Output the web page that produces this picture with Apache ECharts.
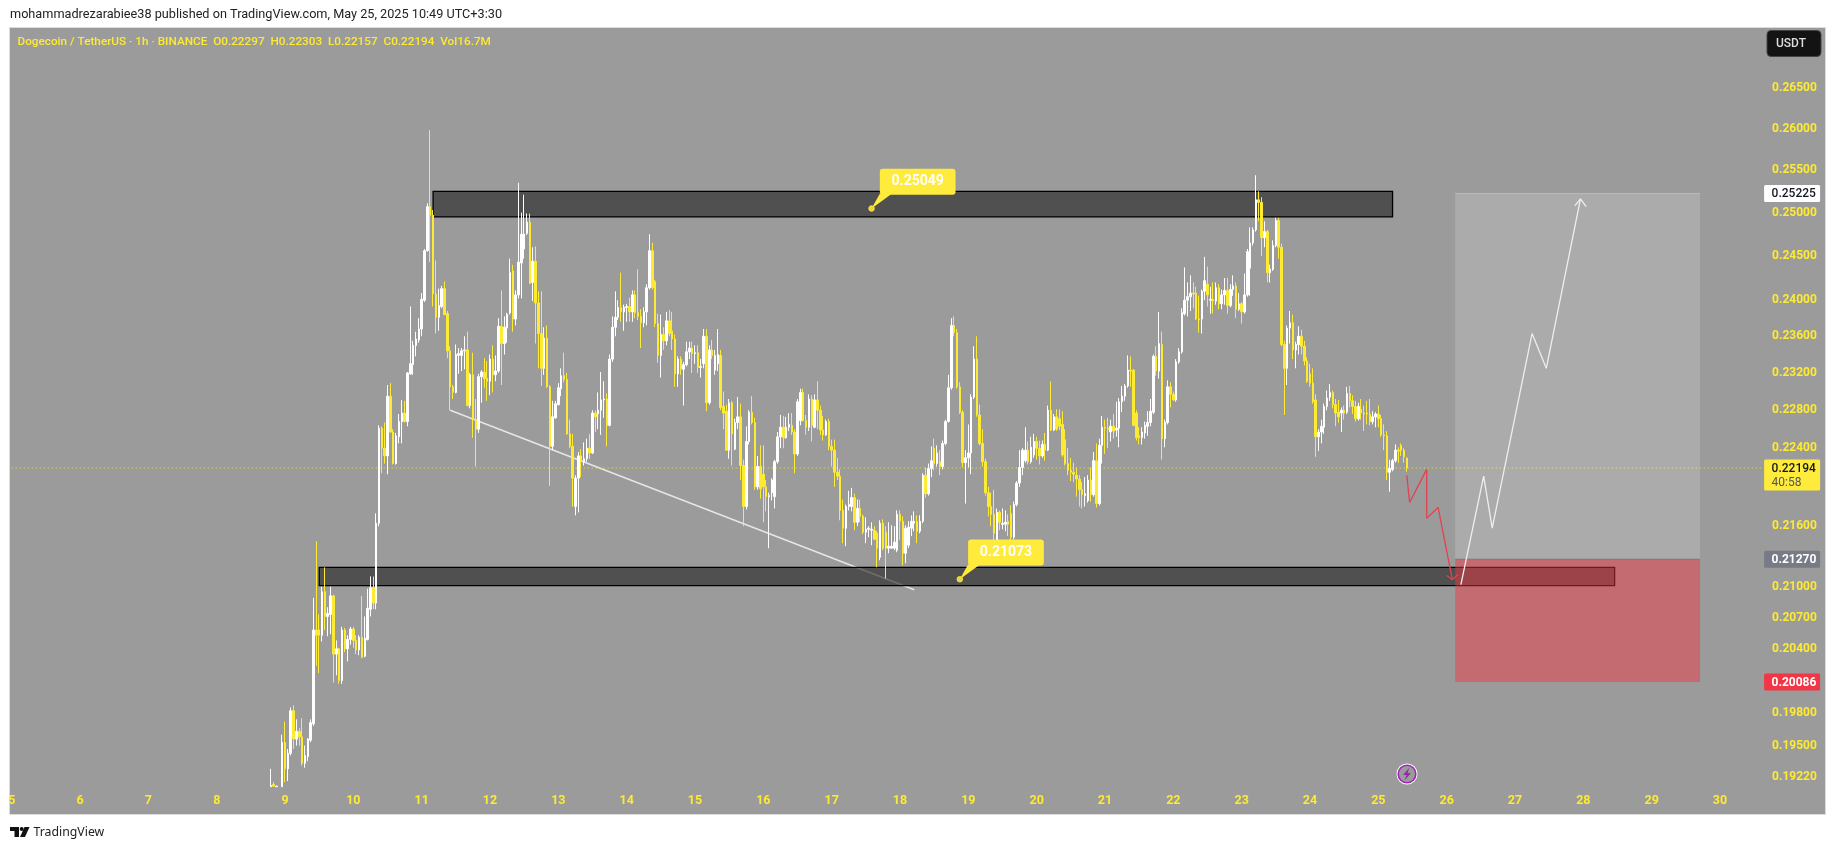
<!DOCTYPE html>
<html><head><meta charset="utf-8">
<style>html,body{margin:0;padding:0;background:#fff}#c{width:1835px;height:850px}</style>
<script src="https://cdn.jsdelivr.net/npm/echarts@6/dist/echarts.min.js"></script>
</head><body><div id="c"></div>
<script>
// ---- data ----
const dayLabels = [5,6,7,8,9,10,11,12,13,14,15,16,17,18,19,20,21,22,23,24,25,26,27,28,29,30];
const hourSlots = 616;
const firstCandle = 91;
const priceTicks = [0.265,0.26,0.255,0.25,0.245,0.24,0.236,0.232,0.228,0.224,0.216,0.21,0.207,0.204,0.198,0.195,0.1922];
const opens = [
0.1913,0.1915,0.1913,0.1908,0.1913,0.1953,0.1929,0.1943,0.1982,0.1956,
0.1963,0.1958,0.1934,0.1940,0.1955,0.1970,0.2058,0.2058,0.2053,0.2095,
0.2071,0.2073,0.2091,0.2035,0.2040,0.2010,0.2058,0.2040,0.2049,0.2059,
0.2048,0.2039,0.2051,0.2033,0.2049,0.2078,0.2099,0.2084,0.2163,0.2261,
0.2240,0.2232,0.2295,0.2257,0.2224,0.2252,0.2268,0.2277,0.2268,0.2319,
0.2329,0.2350,0.2356,0.2368,0.2400,0.2456,0.2507,0.2497,0.2407,0.2381,
0.2393,0.2413,0.2385,0.2344,0.2305,0.2299,0.2339,0.2339,0.2344,0.2345,
0.2285,0.2318,0.2270,0.2260,0.2316,0.2321,0.2314,0.2311,0.2335,0.2318,
0.2322,0.2371,0.2352,0.2369,0.2386,0.2433,0.2379,0.2406,0.2442,0.2458,
0.2476,0.2489,0.2420,0.2444,0.2397,0.2363,0.2325,0.2358,0.2305,0.2242,
0.2272,0.2286,0.2303,0.2317,0.2313,0.2255,0.2242,0.2180,0.2209,0.2232,
0.2226,0.2229,0.2240,0.2235,0.2277,0.2276,0.2280,0.2291,0.2292,0.2264,
0.2335,0.2370,0.2381,0.2392,0.2387,0.2392,0.2393,0.2387,0.2406,0.2386,
0.2382,0.2375,0.2387,0.2414,0.2456,0.2421,0.2374,0.2339,0.2362,0.2355,
0.2377,0.2366,0.2357,0.2319,0.2335,0.2324,0.2329,0.2343,0.2347,0.2341,
0.2342,0.2326,0.2330,0.2360,0.2288,0.2345,0.2323,0.2330,0.2339,0.2284,
0.2279,0.2238,0.2288,0.2239,0.2267,0.2273,0.2222,0.2180,0.2247,0.2278,
0.2267,0.2200,0.2221,0.2213,0.2200,0.2190,0.2194,0.2190,0.2226,0.2252,
0.2262,0.2251,0.2262,0.2264,0.2257,0.2234,0.2269,0.2299,0.2269,0.2262,
0.2292,0.2262,0.2291,0.2280,0.2259,0.2254,0.2268,0.2242,0.2238,0.2215,
0.2211,0.2176,0.2158,0.2180,0.2180,0.2189,0.2164,0.2178,0.2170,0.2154,
0.2157,0.2156,0.2156,0.2153,0.2129,0.2163,0.2154,0.2138,0.2138,0.2138,
0.2136,0.2172,0.2165,0.2133,0.2141,0.2158,0.2163,0.2165,0.2155,0.2165,
0.2212,0.2193,0.2219,0.2240,0.2224,0.2226,0.2221,0.2245,0.2268,0.2304,
0.2372,0.2364,0.2305,0.2278,0.2225,0.2230,0.2235,0.2294,0.2335,0.2275,
0.2245,0.2226,0.2194,0.2180,0.2172,0.2140,0.2174,0.2162,0.2162,0.2165,
0.2173,0.2149,0.2182,0.2204,0.2220,0.2227,0.2238,0.2226,0.2233,0.2247,
0.2240,0.2232,0.2244,0.2238,0.2280,0.2259,0.2273,0.2271,0.2265,0.2249,
0.2224,0.2217,0.2215,0.2212,0.2208,0.2197,0.2191,0.2186,0.2207,0.2192,
0.2227,0.2183,0.2243,0.2262,0.2261,0.2257,0.2263,0.2259,0.2261,0.2289,
0.2295,0.2306,0.2323,0.2323,0.2277,0.2253,0.2251,0.2256,0.2263,0.2267,
0.2278,0.2338,0.2322,0.2351,0.2250,0.2267,0.2305,0.2297,0.2291,0.2332,
0.2343,0.2385,0.2400,0.2404,0.2408,0.2408,0.2379,0.2379,0.2410,0.2418,
0.2400,0.2401,0.2399,0.2414,0.2396,0.2406,0.2411,0.2394,0.2412,0.2416,
0.2390,0.2396,0.2387,0.2406,0.2436,0.2465,0.2480,0.2515,0.2512,0.2471,
0.2478,0.2431,0.2435,0.2462,0.2491,0.2460,0.2351,0.2325,0.2369,0.2375,
0.2345,0.2351,0.2360,0.2349,0.2333,0.2319,0.2309,0.2291,0.2252,0.2257,
0.2262,0.2284,0.2294,0.2299,0.2286,0.2278,0.2277,0.2280,0.2278,0.2298,
0.2290,0.2284,0.2271,0.2281,0.2277,0.2277,0.2276,0.2268,0.2273,0.2276,
0.2271,0.2254,0.2253,0.2215,0.2218,0.2227,0.2238,0.2243,0.2238,0.22297];
const closes = [
0.1914,0.19135,0.19135,0.1910,0.1953,0.1929,0.1943,0.1982,0.1956,0.1963,
0.1958,0.1934,0.1941,0.1956,0.1971,0.2058,0.2053,0.2053,0.2095,0.2071,
0.2074,0.2091,0.2035,0.2040,0.2010,0.2058,0.2040,0.2049,0.2059,0.2048,
0.2039,0.2051,0.2032,0.2050,0.2079,0.2099,0.2084,0.2163,0.2261,0.2240,
0.2232,0.2295,0.2257,0.2224,0.2253,0.2268,0.2277,0.2268,0.2320,0.2330,
0.2350,0.2357,0.2368,0.2401,0.2456,0.2507,0.2497,0.2407,0.2381,0.2394,
0.2413,0.2384,0.2344,0.2305,0.2299,0.2340,0.2341,0.2344,0.2345,0.2285,
0.2318,0.2270,0.2260,0.2316,0.2321,0.2314,0.2311,0.2335,0.2318,0.2322,
0.2371,0.2352,0.2370,0.2384,0.2431,0.2379,0.2406,0.2443,0.2475,0.2475,
0.2489,0.2419,0.2444,0.2397,0.2363,0.2325,0.2358,0.2305,0.2242,0.2273,
0.2287,0.2304,0.2317,0.2313,0.2255,0.2242,0.2209,0.2209,0.2232,0.2226,
0.2229,0.2240,0.2235,0.2277,0.2273,0.2280,0.2291,0.2292,0.2264,0.2335,
0.2370,0.2381,0.2392,0.2387,0.2392,0.2393,0.2387,0.2406,0.2386,0.2382,
0.2375,0.2387,0.2414,0.2456,0.2414,0.2374,0.2339,0.2362,0.2355,0.2377,
0.2363,0.2357,0.2319,0.2335,0.2324,0.2329,0.2343,0.2347,0.2341,0.2342,
0.2326,0.2327,0.2360,0.2288,0.2345,0.2339,0.2339,0.2340,0.2283,0.2277,
0.2238,0.2288,0.2255,0.2267,0.2273,0.2222,0.2180,0.2247,0.2278,0.2267,
0.2200,0.2221,0.2198,0.2200,0.2190,0.2191,0.2207,0.2226,0.2252,0.2262,
0.2251,0.2262,0.2265,0.2257,0.2234,0.2289,0.2299,0.2269,0.2262,0.2292,
0.2264,0.2291,0.2280,0.2259,0.2254,0.2268,0.2242,0.2238,0.2215,0.2211,
0.2176,0.2158,0.2180,0.2182,0.2189,0.2164,0.2178,0.2170,0.2154,0.2157,
0.2158,0.2157,0.2147,0.2138,0.2163,0.2138,0.2138,0.2140,0.2140,0.2144,
0.2172,0.2165,0.2133,0.2158,0.2159,0.2165,0.2165,0.2155,0.2165,0.2212,
0.2193,0.2219,0.2227,0.2224,0.2235,0.2221,0.2245,0.2268,0.2304,0.2372,
0.2364,0.2305,0.2278,0.2225,0.2230,0.2235,0.2294,0.2335,0.2275,0.2245,
0.2226,0.2194,0.2180,0.2172,0.2153,0.2174,0.2164,0.2163,0.2164,0.2162,
0.2149,0.2182,0.2204,0.2220,0.2238,0.2238,0.2226,0.2241,0.2247,0.2240,
0.2232,0.2244,0.2238,0.2280,0.2259,0.2273,0.2260,0.2263,0.2233,0.2224,
0.2217,0.2215,0.2213,0.2208,0.2197,0.2192,0.2193,0.2207,0.2192,0.2227,
0.2183,0.2243,0.2262,0.2261,0.2260,0.2263,0.2258,0.2261,0.2289,0.2295,
0.2306,0.2323,0.2322,0.2264,0.2251,0.2251,0.2257,0.2264,0.2267,0.2279,
0.2338,0.2322,0.2352,0.2250,0.2267,0.2305,0.2297,0.2291,0.2332,0.2343,
0.2386,0.2400,0.2404,0.2408,0.2407,0.2379,0.2378,0.2410,0.2422,0.2406,
0.2401,0.2399,0.2414,0.2396,0.2406,0.2411,0.2394,0.2412,0.2416,0.2390,
0.2396,0.2387,0.2406,0.2455,0.2465,0.2480,0.2515,0.2512,0.2471,0.2478,
0.2431,0.2435,0.2462,0.2491,0.2460,0.2351,0.2325,0.2369,0.2375,0.2345,
0.2351,0.2360,0.2349,0.2333,0.2311,0.2309,0.2289,0.2252,0.2257,0.2263,
0.2284,0.2293,0.2299,0.2286,0.2277,0.2273,0.2280,0.2277,0.2298,0.2290,
0.2284,0.2271,0.2284,0.2277,0.2276,0.2276,0.2268,0.2273,0.2276,0.2271,
0.2254,0.2253,0.2215,0.2219,0.2227,0.2238,0.2237,0.2238,0.2231,0.22194];
const lows = [
0.1913,0.1913,0.1913,0.1900,0.1913,0.1917,0.1918,0.1941,0.1947,0.1950,
0.1950,0.1932,0.1930,0.1936,0.1953,0.1968,0.2024,0.2017,0.2047,0.2058,
0.2052,0.2054,0.2008,0.2015,0.2007,0.2007,0.2037,0.2028,0.2044,0.2041,
0.2035,0.2034,0.2031,0.2032,0.2048,0.2071,0.2078,0.2078,0.2160,0.2214,
0.2224,0.2213,0.2256,0.2223,0.2223,0.2245,0.2245,0.2267,0.2263,0.2318,
0.2318,0.2338,0.2353,0.2360,0.2398,0.2455,0.2443,0.2393,0.2363,0.2366,
0.2391,0.2383,0.2336,0.2280,0.2292,0.2298,0.2319,0.2322,0.2324,0.2284,
0.2282,0.2251,0.2221,0.2256,0.2288,0.2304,0.2290,0.2296,0.2299,0.2311,
0.2320,0.2307,0.2340,0.2353,0.2384,0.2365,0.2372,0.2402,0.2402,0.2447,
0.2474,0.2418,0.2399,0.2352,0.2325,0.2306,0.2318,0.2304,0.2201,0.2238,
0.2271,0.2285,0.2295,0.2310,0.2254,0.2240,0.2180,0.2171,0.2174,0.2210,
0.2222,0.2226,0.2229,0.2234,0.2257,0.2260,0.2254,0.2272,0.2242,0.2263,
0.2332,0.2360,0.2378,0.2376,0.2366,0.2376,0.2376,0.2376,0.2380,0.2378,
0.2347,0.2370,0.2372,0.2412,0.2412,0.2370,0.2331,0.2315,0.2345,0.2350,
0.2360,0.2345,0.2305,0.2305,0.2318,0.2285,0.2327,0.2335,0.2320,0.2330,
0.2320,0.2315,0.2325,0.2279,0.2286,0.2335,0.2318,0.2322,0.2280,0.2260,
0.2237,0.2229,0.2222,0.2238,0.2260,0.2207,0.2160,0.2177,0.2244,0.2265,
0.2197,0.2197,0.2188,0.2164,0.2175,0.2138,0.2186,0.2178,0.2224,0.2240,
0.2240,0.2250,0.2258,0.2254,0.2214,0.2232,0.2264,0.2268,0.2254,0.2258,
0.2247,0.2261,0.2260,0.2254,0.2248,0.2253,0.2238,0.2221,0.2200,0.2207,
0.2166,0.2143,0.2140,0.2176,0.2175,0.2156,0.2160,0.2164,0.2152,0.2143,
0.2149,0.2141,0.2146,0.2119,0.2126,0.2136,0.2108,0.2133,0.2138,0.2136,
0.2134,0.2146,0.2121,0.2123,0.2138,0.2150,0.2155,0.2143,0.2153,0.2163,
0.2189,0.2191,0.2210,0.2217,0.2221,0.2212,0.2218,0.2243,0.2267,0.2302,
0.2360,0.2303,0.2276,0.2220,0.2183,0.2220,0.2213,0.2292,0.2273,0.2243,
0.2221,0.2191,0.2170,0.2160,0.2141,0.2138,0.2156,0.2157,0.2155,0.2150,
0.2146,0.2147,0.2180,0.2200,0.2212,0.2225,0.2223,0.2224,0.2230,0.2228,
0.2223,0.2230,0.2227,0.2237,0.2258,0.2258,0.2258,0.2259,0.2231,0.2222,
0.2212,0.2206,0.2205,0.2190,0.2180,0.2178,0.2180,0.2184,0.2185,0.2190,
0.2179,0.2181,0.2224,0.2234,0.2240,0.2247,0.2250,0.2252,0.2241,0.2278,
0.2290,0.2304,0.2305,0.2263,0.2248,0.2244,0.2244,0.2250,0.2253,0.2263,
0.2276,0.2317,0.2314,0.2228,0.2241,0.2265,0.2283,0.2290,0.2289,0.2330,
0.2341,0.2383,0.2382,0.2388,0.2391,0.2378,0.2364,0.2363,0.2400,0.2393,
0.2385,0.2385,0.2395,0.2390,0.2390,0.2395,0.2385,0.2392,0.2405,0.2380,
0.2388,0.2374,0.2385,0.2404,0.2405,0.2462,0.2478,0.2490,0.2450,0.2460,
0.2420,0.2420,0.2433,0.2460,0.2447,0.2349,0.2275,0.2307,0.2352,0.2335,
0.2325,0.2340,0.2340,0.2328,0.2309,0.2305,0.2287,0.2231,0.2237,0.2245,
0.2255,0.2280,0.2290,0.2282,0.2263,0.2267,0.2257,0.2270,0.2276,0.2283,
0.2276,0.2268,0.2269,0.2270,0.2258,0.2265,0.2264,0.2265,0.2262,0.2262,
0.2252,0.2238,0.2207,0.2195,0.2216,0.2225,0.2225,0.2232,0.2225,0.22157];
const highs = [
0.1929,0.1917,0.1914,0.1912,0.1960,0.1972,0.1947,0.1985,0.1987,0.1974,
0.1966,0.1975,0.1950,0.1957,0.1974,0.2089,0.2145,0.2073,0.2100,0.2119,
0.2080,0.2100,0.2092,0.2048,0.2041,0.2061,0.2060,0.2053,0.2061,0.2061,
0.2053,0.2053,0.2091,0.2071,0.2098,0.2110,0.2110,0.2173,0.2264,0.2263,
0.2267,0.2307,0.2309,0.2260,0.2256,0.2276,0.2291,0.2290,0.2321,0.2393,
0.2355,0.2365,0.2380,0.2408,0.2458,0.2511,0.2598,0.2503,0.2445,0.2413,
0.2416,0.2421,0.2388,0.2349,0.2307,0.2351,0.2347,0.2347,0.2360,0.2365,
0.2320,0.2342,0.2292,0.2319,0.2323,0.2336,0.2333,0.2340,0.2350,0.2339,
0.2380,0.2411,0.2382,0.2386,0.2447,0.2440,0.2411,0.2535,0.2500,0.2521,
0.2499,0.2499,0.2460,0.2461,0.2410,0.2410,0.2370,0.2372,0.2307,0.2290,
0.2290,0.2309,0.2325,0.2342,0.2320,0.2270,0.2255,0.2212,0.2236,0.2239,
0.2246,0.2250,0.2255,0.2280,0.2280,0.2299,0.2321,0.2311,0.2298,0.2340,
0.2382,0.2410,0.2400,0.2431,0.2395,0.2396,0.2403,0.2411,0.2411,0.2435,
0.2390,0.2392,0.2418,0.2475,0.2465,0.2423,0.2385,0.2384,0.2370,0.2387,
0.2389,0.2387,0.2362,0.2338,0.2338,0.2332,0.2354,0.2354,0.2354,0.2350,
0.2350,0.2335,0.2368,0.2368,0.2350,0.2356,0.2345,0.2368,0.2345,0.2300,
0.2286,0.2292,0.2290,0.2271,0.2294,0.2287,0.2228,0.2263,0.2280,0.2295,
0.2272,0.2232,0.2243,0.2243,0.2207,0.2194,0.2209,0.2228,0.2257,0.2275,
0.2274,0.2273,0.2277,0.2277,0.2260,0.2292,0.2303,0.2303,0.2275,0.2297,
0.2296,0.2297,0.2311,0.2285,0.2274,0.2270,0.2271,0.2249,0.2249,0.2230,
0.2218,0.2187,0.2182,0.2196,0.2199,0.2193,0.2187,0.2187,0.2172,0.2169,
0.2160,0.2164,0.2160,0.2155,0.2166,0.2167,0.2160,0.2164,0.2161,0.2160,
0.2176,0.2176,0.2170,0.2161,0.2165,0.2171,0.2175,0.2171,0.2171,0.2214,
0.2220,0.2224,0.2242,0.2250,0.2243,0.2238,0.2248,0.2270,0.2318,0.2380,
0.2382,0.2368,0.2310,0.2280,0.2238,0.2265,0.2297,0.2349,0.2360,0.2286,
0.2260,0.2229,0.2200,0.2194,0.2197,0.2178,0.2176,0.2178,0.2176,0.2172,
0.2181,0.2185,0.2206,0.2238,0.2240,0.2262,0.2247,0.2252,0.2255,0.2252,
0.2248,0.2248,0.2256,0.2285,0.2311,0.2276,0.2281,0.2281,0.2279,0.2260,
0.2240,0.2230,0.2225,0.2220,0.2212,0.2205,0.2210,0.2212,0.2220,0.2236,
0.2245,0.2250,0.2274,0.2270,0.2272,0.2270,0.2276,0.2289,0.2293,0.2306,
0.2308,0.2339,0.2338,0.2324,0.2280,0.2262,0.2262,0.2268,0.2279,0.2292,
0.2340,0.2349,0.2387,0.2365,0.2270,0.2312,0.2310,0.2300,0.2335,0.2347,
0.2391,0.2437,0.2420,0.2428,0.2420,0.2415,0.2405,0.2412,0.2449,0.2438,
0.2415,0.2420,0.2420,0.2418,0.2412,0.2425,0.2425,0.2418,0.2428,0.2420,
0.2408,0.2398,0.2430,0.2458,0.2483,0.2483,0.2544,0.2525,0.2518,0.2490,
0.2480,0.2440,0.2468,0.2494,0.2494,0.2464,0.2355,0.2372,0.2388,0.2384,
0.2354,0.2371,0.2367,0.2355,0.2337,0.2330,0.2325,0.2297,0.2260,0.2270,
0.2287,0.2301,0.2308,0.2301,0.2292,0.2291,0.2283,0.2285,0.2305,0.2306,
0.2296,0.2290,0.2288,0.2292,0.2285,0.2290,0.2292,0.2279,0.2278,0.2285,
0.2275,0.2265,0.2258,0.2228,0.2229,0.2244,0.2241,0.2245,0.2240,0.22303];

const zoneStart = [148,108];
const zoneEnd = [485,563];
const zoneTop = [0.2525,0.2119];
const zoneBottom = [0.2495,0.2101];
const trendX = [154,317];
const trendY = [0.2280,0.2097];
const boxStart = 507, boxEnd = 593;
const targetPrice = 0.25225, entryPrice = 0.2127, stopPrice = 0.20086, lastPrice = 0.22194;
const lastLineX = [0,615];
const lastLineY = [lastPrice,lastPrice];
const redPathX = [490,491,497,497,501,506];
const redPathY = [0.2212,0.2184,0.2218,0.2168,0.2179,0.2107];
const redHeadX = [504,506,508];
const redHeadY = [0.2111,0.2107,0.2112];
const whitePathX = [509,517,520,534,539,551];
const whitePathY = [0.2102,0.2211,0.2158,0.2363,0.2325,0.2516];
const whiteHeadX = [549,551,553];
const whiteHeadY = [0.2508,0.2516,0.2507];
const calloutX = [302,333];
const calloutY = [0.25049,0.21073];
const tagPrices = [0.25225,0.22194,0.2127,0.20086];
const tagTexts = ['0.25225','0.22194','0.21270','0.20086'];
const titleLine = 'mohammadrezarabiee38 published on TradingView.com, May 25, 2025 10:49 UTC+3:30';
const legendLine = 'Dogecoin / TetherUS · 1h · BINANCE  O0.22297  H0.22303  L0.22157  C0.22194  Vol16.7M';

// ---- styling ----
const YEL = '#fdea33', PANEL = '#9b9b9b', FONT = 'Roboto, "Noto Sans", sans-serif';
const categories = [];
for (let i = 0; i < hourSlots; i++) {
  const d = dayLabels[Math.min(Math.floor(i / 24), dayLabels.length - 1)];
  categories.push(d + ' ' + (i % 24) + ':00');
}
const candleData = opens.map((o, i) => [firstCandle + i, o, closes[i], lows[i], highs[i]]);
const pairs = (xs, ys) => xs.map((x, i) => [x, ys[i]]);
const lineS = (xs, ys, color, z, width, type) => ({type:'line', data:pairs(xs,ys), z, symbol:'none', silent:true,
  lineStyle:{color, width:width||1.3, type:type||'solid'}, animation:false, clip:false});

const zoneSeries = {type:'custom', z:3, silent:true, clip:false,
  data: zoneStart.map((s,i)=>[s, zoneTop[i], zoneEnd[i], zoneBottom[i]]),
  encode:{x:[0,2], y:[1,3]},
  renderItem(p, api){
    const a = api.coord([api.value(0), api.value(1)]), b = api.coord([api.value(2), api.value(3)]);
    return {type:'rect', shape:{x:a[0], y:a[1], width:b[0]-a[0], height:b[1]-a[1]},
      style:{fill:'rgba(30,30,30,0.6)', stroke:'#000', lineWidth:1.3}};
  }};
const boxSeries = {type:'custom', z:6, silent:true, clip:false,
  data:[[boxStart,targetPrice,boxEnd,entryPrice,0],[boxStart,entryPrice,boxEnd,stopPrice,1]],
  encode:{x:[0,2], y:[1,3]},
  renderItem(p, api){
    const a = api.coord([api.value(0), api.value(1)]), b = api.coord([api.value(2), api.value(3)]);
    const red = api.value(4) === 1;
    return {type:'group', children:[
      {type:'rect', shape:{x:a[0], y:a[1], width:b[0]-a[0], height:b[1]-a[1]},
       style:{fill: red ? 'rgba(242,54,69,0.47)' : 'rgba(255,255,255,0.17)'}},
      {type:'line', shape:{x1:a[0], y1:a[1], x2:b[0], y2:a[1]},
       style:{stroke: red ? '#787b86' : 'rgba(255,255,255,0.25)', lineWidth:1}}]};
  }};
const calloutSeries = {type:'custom', z:9, silent:true, clip:false,
  data: calloutX.map((x,i)=>[x, calloutY[i]]),
  encode:{x:0, y:1},
  renderItem(p, api){
    const c = api.coord([api.value(0), api.value(1)]);
    const bx = c[0]+8.3, by = c[1]-39.7, bw = 75.7, bh = 25.9;
    return {type:'group', children:[
      {type:'polygon', shape:{points:[[bx,by+bh-1],[bx+12,by+bh-1],[c[0],c[1]]]}, style:{fill:'#ffeb3b'}},
      {type:'rect', shape:{x:bx, y:by, width:bw, height:bh, r:3}, style:{fill:'#ffeb3b'}},
      {type:'circle', shape:{cx:c[0], cy:c[1], r:2.8}, style:{fill:'#e8d53a', stroke:'#ffeb3b', lineWidth:0.8}},
      {type:'text', style:{x:bx+bw/2, y:by+bh/2, text:api.value(1).toFixed(5), fill:'#fff',
        font:'bold 14px '+FONT, align:'center', verticalAlign:'middle'}}]};
  }};
const tagSeries = {type:'custom', z:10, silent:true, clip:false,
  data: tagPrices.map((v,i)=>[615, v, i]),
  encode:{x:0, y:1},
  renderItem(p, api){
    const i = api.value(2), y = api.coord([0, api.value(1)])[1], x = p.coordSys.x + p.coordSys.width;
    const bg = ['#ffffff','#ffeb3b','#787b86','#f23645'][i], fg = ['#131722','#131722','#ffffff','#ffffff'][i];
    const kids = [
      {type:'rect', shape:{x:x, y:y-8.5, width:56, height:i===1?31:17, r:1.5}, style:{fill:bg}},
      {type:'text', style:{x:x+7.5, y:y+0.5, text:tagTexts[i], fill:fg,
        font:(i<2?'500':'bold')+' 12px '+FONT, align:'left', verticalAlign:'middle'}}];
    if (i === 1) kids.push({type:'text', style:{x:x+7.5, y:y+14.5, text:'40:58', fill:'#555',
        font:'12px '+FONT, align:'left', verticalAlign:'middle'}});
    return {type:'group', children:kids};
  }};

const chart = echarts.init(document.getElementById('c'), null, {renderer:'canvas'});
chart.setOption({
  animation:false, backgroundColor:'#ffffff',
  grid:{left:10.3, top:27, width:1753.8, height:759.5, containLabel:false},
  xAxis:{type:'category', data:categories, boundaryGap:true,
    axisLine:{show:false}, axisTick:{show:false}, splitLine:{show:false},
    axisLabel:{interval:(i)=>i%24===0, formatter:(v)=>v.split(' ')[0], color:YEL, fontFamily:FONT, fontWeight:'bold', fontSize:12.5, margin:8, hideOverlap:false}},
  yAxis:{type:'log', logBase:10, position:'right', min:0.19132, max:0.2726,
    axisLine:{show:false}, axisTick:{show:false}, splitLine:{show:false}, minorTick:{show:false}, minorSplitLine:{show:false},
    axisLabel:{customValues:priceTicks, formatter:(v)=>Number(v).toFixed(5), color:YEL, fontFamily:FONT, fontWeight:'bold', fontSize:12, margin:8, hideOverlap:false}},
  graphic:[
    {type:'rect', z:-10, silent:true, shape:{x:9.5,y:27.5,width:1816,height:787}, style:{fill:PANEL, stroke:'#dcdcdc', lineWidth:1}},
    {type:'rect', z:50, silent:true, shape:{x:0,y:30,width:9,height:784}, style:{fill:'#ffffff'}},
    {type:'text', z:50, silent:true, style:{x:10, y:15, text:titleLine, fill:'#222', font:'12.7px Roboto, sans-serif', verticalAlign:'middle'}},
    {type:'text', z:50, silent:true, style:{x:17.5, y:42, text:legendLine, fill:YEL, font:'500 11.75px '+FONT, verticalAlign:'middle'}},
    {type:'rect', z:50, silent:true, shape:{x:1767,y:30.5,width:54,height:26,r:4}, style:{fill:'#131313', stroke:'#444', lineWidth:1}},
    {type:'text', z:51, silent:true, style:{x:1776, y:44, text:'USDT', fill:'#dddddd', font:'500 12px '+FONT, verticalAlign:'middle'}},
    {type:'circle', z:50, silent:true, shape:{cx:1407,cy:774,r:10.5}, style:{fill:'#ffffff'}},
    {type:'circle', z:51, silent:true, shape:{cx:1407,cy:774,r:8.8}, style:{fill:PANEL, stroke:'#9c27b0', lineWidth:1.6}},
    {type:'polygon', z:52, silent:true, shape:{points:[[1409.5,767.5],[1403,775],[1406.5,775],[1404.5,780.5],[1411,773],[1407.5,773]]}, style:{fill:'#9c27b0'}},
    {type:'polygon', z:50, silent:true, shape:{points:[[10,827],[19,827],[19,837],[14.5,837],[14.5,831],[10,831]]}, style:{fill:'#111'}},
    {type:'circle', z:50, silent:true, shape:{cx:21.7,cy:829,r:2}, style:{fill:'#111'}},
    {type:'polygon', z:50, silent:true, shape:{points:[[24.5,827],[29.5,827],[25,837],[20,837]]}, style:{fill:'#111'}},
    {type:'text', z:50, silent:true, style:{x:33.5, y:832, text:'TradingView', fill:'#222', font:'12.3px "Noto Sans", sans-serif', verticalAlign:'middle'}}
  ],
  series:[
    lineS(trendX, trendY, '#e6e6e6', 2, 1.5),
    zoneSeries,
    lineS(lastLineX, lastLineY, YEL, 3.5, 1, [1,3]),
    {type:'candlestick', z:4, data:candleData, encode:{x:0, y:[1,2,3,4]}, barWidth:2, silent:true, clip:true,
      itemStyle:{color:'#ffffff', color0:YEL, borderColor:'#ffffff', borderColor0:YEL, borderWidth:1}},
    boxSeries,
    lineS(redPathX, redPathY, '#e2434f', 7),
    lineS(redHeadX, redHeadY, '#e2434f', 7),
    lineS(whitePathX, whitePathY, '#eeeeee', 7),
    lineS(whiteHeadX, whiteHeadY, '#eeeeee', 7),
    calloutSeries,
    tagSeries
  ]
});
</script>
</body></html>
